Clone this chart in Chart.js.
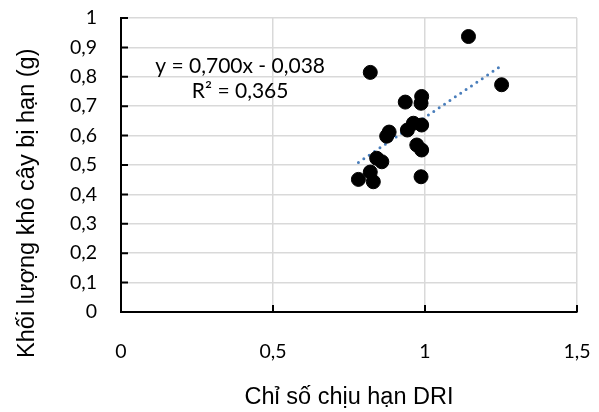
<!DOCTYPE html>
<html>
<head>
<meta charset="utf-8">
<script src="https://cdn.jsdelivr.net/npm/chart.js@4.4.1/dist/chart.umd.min.js"></script>
<style>
  body { margin: 0; background: #fff; }
  #wrap { width: 599px; height: 412px; }
</style>
</head>
<body>
<div id="wrap"><canvas id="myChart" width="599" height="412"></canvas></div>
<script>
// chỉ số chịu hạn DRI và khối lượng khô (g)
const driValues = [0.781, 0.830, 0.820, 0.841, 0.858, 0.874, 0.882, 0.820, 0.935, 0.942,
                   0.962, 0.973, 0.989, 0.989, 0.987, 0.989, 0.987, 1.143, 1.252]
const dryWeights = [0.451, 0.443, 0.476, 0.523, 0.511, 0.598, 0.612, 0.815, 0.714, 0.619,
                    0.642, 0.568, 0.551, 0.636, 0.710, 0.733, 0.460, 0.937, 0.773]
const slope = 0.700
const intercept = -0.038
const rSquared = 0.365
const xTicks = [0, 0.5, 1, 1.5]
const yTicks = [0, 0.1, 0.2, 0.3, 0.4, 0.5, 0.6, 0.7, 0.8, 0.9, 1]
const xTitle = 'Chỉ số chịu hạn DRI'
const yTitle = 'Khối lượng khô cây bị hạn (g)'

const tickFont = 'Lato'
const titleFont = '"Liberation Sans", Arial, sans-serif'
const fmt = (v) => String(Number(v.toFixed(2))).replace('.', ',')
const fmt3 = (v) => v.toFixed(3).replace('.', ',')

let points = []
for (let i = 0; i < driValues.length; i++) {
    points.push({ x: driValues[i], y: dryWeights[i] })
}
const minX = Math.min(...driValues)
const maxX = Math.max(...driValues)
let trend = [
    { x: minX, y: slope * minX + intercept },
    { x: maxX, y: slope * maxX + intercept }
]

// vạch chia hướng vào trong, tên trục tung, phương trình hồi quy
const extras = {
    id: 'extras',
    afterDraw(chart) {
        const ctx = chart.ctx
        const xs = chart.scales.x
        const ys = chart.scales.y
        ctx.save()
        ctx.strokeStyle = '#000'
        ctx.lineWidth = 2
        ctx.beginPath()
        xTicks.forEach(v => {
            let px = xs.getPixelForValue(v)
            ctx.moveTo(px, ys.bottom)
            ctx.lineTo(px, ys.bottom - 7)
        })
        yTicks.forEach(v => {
            let py = ys.getPixelForValue(v)
            ctx.moveTo(xs.left, py)
            ctx.lineTo(xs.left + 7, py)
        })
        ctx.stroke()

        ctx.fillStyle = '#000'
        ctx.textAlign = 'center'
        ctx.textBaseline = 'middle'

        ctx.save()
        ctx.translate(28, ys.getPixelForValue(0.37))
        ctx.rotate(-Math.PI / 2)
        ctx.font = '23.5px ' + titleFont
        ctx.fillText(yTitle, 0, 0)
        ctx.restore()

        ctx.font = '21px ' + tickFont
        let cx = xs.getPixelForValue(0.392)
        let sign = intercept < 0 ? ' - ' : ' + '
        ctx.fillText('y = ' + fmt3(slope) + 'x' + sign + fmt3(Math.abs(intercept)), cx, ys.getPixelForValue(0.837))
        ctx.fillText('R² = ' + fmt3(rSquared), cx, ys.getPixelForValue(0.752))
        ctx.restore()
    }
}

const ctx = document.getElementById('myChart')
new Chart(ctx, {
    type: 'scatter',
    data: {
        datasets: [{
            label: 'DRI',
            data: points,
            backgroundColor: '#000',
            borderColor: '#000',
            borderWidth: 1,
            pointRadius: 7,
            pointHoverRadius: 7
        }, {
            label: 'Trend',
            type: 'line',
            data: trend,
            showLine: true,
            pointRadius: 0,
            borderColor: '#4a7ebb',
            borderWidth: 3,
            borderDash: [0, 6.5],
            borderCapStyle: 'round',
            fill: false
        }]
    },
    options: {
        responsive: false,
        animation: false,
        layout: { padding: { left: 14, right: 22, top: 18, bottom: 0 } },
        plugins: {
            legend: { display: false },
            tooltip: { enabled: false }
        },
        scales: {
            x: {
                type: 'linear',
                min: 0,
                max: 1.5,
                afterBuildTicks: (s) => { s.ticks = xTicks.map(v => ({ value: v })) },
                afterFit: (s) => { s.height = 100; s.paddingLeft = 0; s.paddingRight = 0 },
                grid: { color: '#d9d9d9', lineWidth: 1.5, drawTicks: false },
                border: { color: '#000', width: 2 },
                ticks: {
                    padding: 28,
                    color: '#000',
                    font: { family: tickFont, size: 19.5 },
                    callback: (v) => fmt(v)
                },
                title: {
                    display: true,
                    text: xTitle,
                    color: '#000',
                    font: { family: titleFont, size: 23.5 },
                    padding: { top: 19, bottom: 0 }
                }
            },
            y: {
                min: 0,
                max: 1,
                afterBuildTicks: (s) => { s.ticks = yTicks.map(v => ({ value: v })) },
                afterFit: (s) => { s.width = 107; s.paddingTop = 0; s.paddingBottom = 0 },
                grid: { color: '#d9d9d9', lineWidth: 1.5, drawTicks: false },
                border: { color: '#000', width: 2 },
                ticks: {
                    padding: 24,
                    color: '#000',
                    font: { family: tickFont, size: 19.5 },
                    callback: (v) => fmt(v)
                }
            }
        }
    },
    plugins: [extras]
})
</script>
</body>
</html>
